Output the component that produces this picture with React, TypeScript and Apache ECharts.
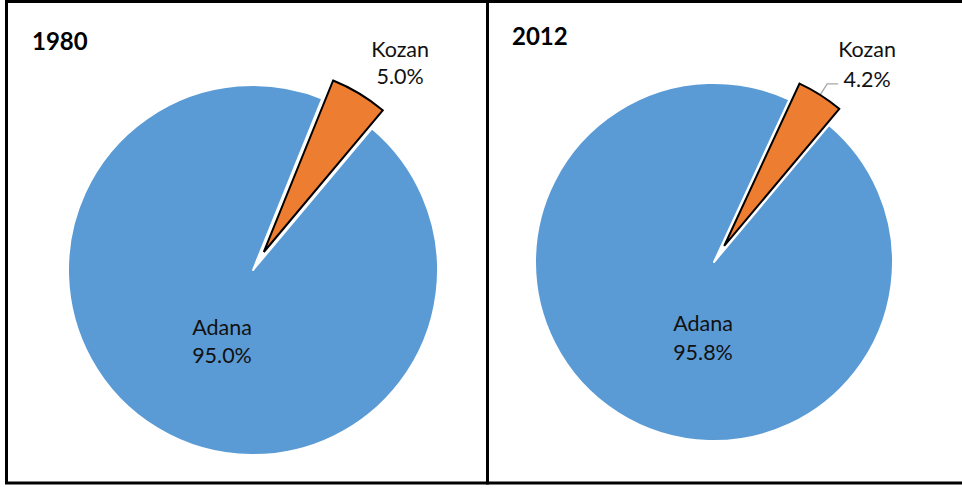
import React, { useEffect, useRef } from 'react';
import * as echarts from 'echarts';

const categories = ['Adana', 'Kozan'];
const years = ['1980', '2012'];
const values1980 = [95.0, 5.0];
const values2012 = [95.8, 4.2];
const sliceColors = ['#5B9BD5', '#ED7D31'];

const FONT = 'Lato, "Noto Sans", sans-serif';

export default function App() {
  const ref = useRef<HTMLDivElement>(null);
  useEffect(() => {
    const chart = echarts.init(ref.current!, null, { renderer: 'svg' });

    const mkRich = (lh: number) => ({
      t: { align: 'center', fontSize: 21.5, lineHeight: lh, fontFamily: FONT, color: '#111' },
    });
    const fmt = (p: any) => `{t|${p.name}}\n{t|${p.percent.toFixed(1)}%}`;

    const styleFor = (i: number) =>
      i === 0
        ? { color: sliceColors[0], borderColor: '#fff', borderWidth: 2, borderJoin: 'round' }
        : { color: sliceColors[1], borderColor: '#000', borderWidth: 2, borderJoin: 'miter' };

    const makeData = (vals: number[], kozan: any) =>
      categories.map((c, i) => ({
        name: c,
        value: vals[i],
        selected: i === 1,
        itemStyle: styleFor(i),
        select: { itemStyle: styleFor(i) },
        label: i === 1 ? kozan.label : { position: 'inside', rich: mkRich(28.5) },
        labelLine: i === 1 ? kozan.labelLine : { show: false },
      }));

    const kozanLeft = {
      label: {
        position: 'outside',
        distanceToLabelLine: 0,
        padding: [0, 0, 44, 0],
        rich: mkRich(27),
      },
      labelLine: { show: false, length: 10, length2: 7 },
    };
    const kozanRight = {
      label: {
        position: 'outside',
        distanceToLabelLine: 0,
        padding: [0, 0, 40, 0],
        rich: mkRich(30),
      },
      labelLine: { show: true, length: 13, length2: 11, lineStyle: { color: '#A6A6A6', width: 1.3 } },
    };

    const adanaPos = [
      { x: 222, y: 341 },
      { x: 703, y: 337.5 },
    ];

    const baseSeries = {
      type: 'pie',
      startAngle: 50,
      clockwise: true,
      selectedMode: 'single',
      avoidLabelOverlap: false,
      emphasis: { disabled: true, scale: false },
      label: { show: true, formatter: fmt, color: '#111' },
    };

    chart.setOption({
      animation: false,
      backgroundColor: '#fff',
      series: [
        {
          ...baseSeries,
          name: years[0],
          center: [253, 270],
          radius: 185,
          selectedOffset: 21,
          data: makeData(values1980, kozanLeft),
          labelLayout: (p: any) =>
            p.dataIndex === 0
              ? { x: adanaPos[0].x, y: adanaPos[0].y, align: 'center', verticalAlign: 'middle' }
              : {},
        },
        {
          ...baseSeries,
          name: years[1],
          center: [714, 262],
          radius: 179,
          selectedOffset: 19,
          data: makeData(values2012, kozanRight),
          labelLayout: (p: any) =>
            p.dataIndex === 0
              ? { x: adanaPos[1].x, y: adanaPos[1].y, align: 'center', verticalAlign: 'middle' }
              : {},
        },
      ],
      graphic: [
        {
          type: 'rect',
          silent: true,
          shape: { x: 6.5, y: 1.5, width: 481, height: 481.5 },
          style: { fill: 'none', stroke: '#000', lineWidth: 3 },
        },
        {
          type: 'rect',
          silent: true,
          shape: { x: 487.5, y: 1.5, width: 480, height: 481.5 },
          style: { fill: 'none', stroke: '#000', lineWidth: 3 },
        },
        {
          type: 'text',
          x: 32,
          y: 40.5,
          style: {
            text: years[0],
            fontSize: 24,
            fontWeight: 'bold',
            fontFamily: FONT,
            fill: '#000',
            align: 'left',
            verticalAlign: 'middle',
          },
        },
        {
          type: 'text',
          x: 512,
          y: 35.5,
          style: {
            text: years[1],
            fontSize: 24,
            fontWeight: 'bold',
            fontFamily: FONT,
            fill: '#000',
            align: 'left',
            verticalAlign: 'middle',
          },
        },
      ],
    });
    return () => chart.dispose();
  }, []);
  return (
    <div
      ref={ref}
      style={{ position: 'absolute', left: 0, top: 0, width: 962, height: 488, background: '#fff' }}
    />
  );
}
